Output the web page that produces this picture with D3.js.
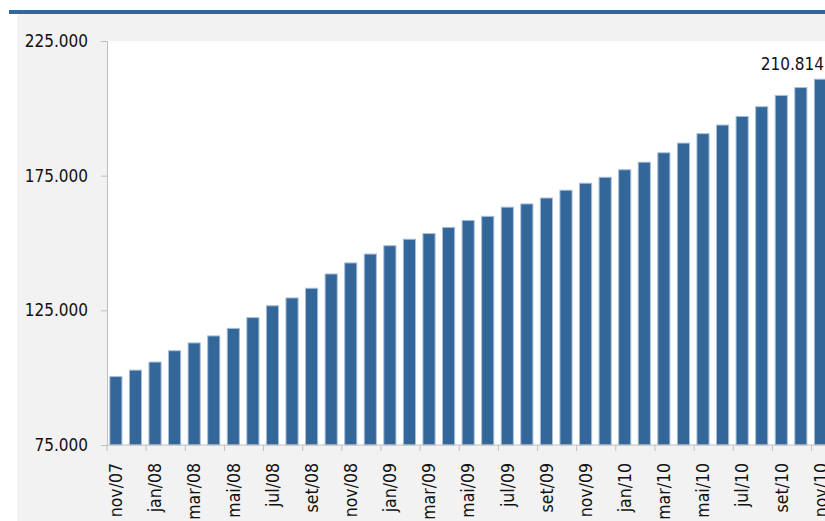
<!DOCTYPE html>
<html>
<head>
<meta charset="utf-8">
<script src="https://cdn.jsdelivr.net/npm/d3@7"></script>
<style>
  html, body { margin: 0; padding: 0; background: #ffffff; }
  svg { display: block; }
  text { font-family: "DejaVu Sans Condensed", "DejaVu Sans", sans-serif; fill: #111; }
</style>
</head>
<body>
<svg id="chart" width="825" height="521"></svg>
<script>
const months = [
  "nov/07","dez/07","jan/08","fev/08","mar/08","abr/08","mai/08","jun/08","jul/08","ago/08","set/08","out/08",
  "nov/08","dez/08","jan/09","fev/09","mar/09","abr/09","mai/09","jun/09","jul/09","ago/09","set/09","out/09",
  "nov/09","dez/09","jan/10","fev/10","mar/10","abr/10","mai/10","jun/10","jul/10","ago/10","set/10","out/10",
  "nov/10"
];
const values = [
  100400, 102800, 105800, 110000, 112900, 115500, 118300, 122300, 126700, 129600, 133200, 138500,
  142600, 145900, 149000, 151400, 153500, 155800, 158400, 159900, 163300, 164500, 166700, 169600,
  172200, 174400, 177200, 180000, 183500, 187100, 190600, 193800, 197000, 200600, 204800, 207700,
  210814
];
const yTicks = [75000, 125000, 175000, 225000];
const labelledMonths = months.filter((m, i) => i % 2 === 0);
const highlightIndex = 36;

const svg = d3.select("#chart");
const W = 825, H = 521;
const plot = { left: 107, top: 41, bottom: 445 };

const fmt = d3.formatLocale({ decimal: ",", thousands: ".", grouping: [3], currency: ["", ""] }).format(",.0f");

// background frame
svg.append("rect").attr("x", 9).attr("y", 10).attr("width", W - 9).attr("height", 4).attr("fill", "#336699");
svg.append("rect").attr("x", 17).attr("y", 14).attr("width", W - 17).attr("height", H - 14).attr("fill", "#f2f2f2");
svg.append("rect").attr("x", plot.left).attr("y", plot.top).attr("width", W - plot.left).attr("height", plot.bottom - plot.top).attr("fill", "#ffffff");

const x = d3.scaleBand()
  .domain(months)
  .range([plot.left, plot.left + 37 * 19.57])
  .paddingInner(0.38)
  .paddingOuter(0.19)
  .align(0.38);

const y = d3.scaleLinear().domain([75000, 225000]).range([plot.bottom, plot.top]);

const axisColor = "#bfbfbf";

// bars
svg.append("g").selectAll("rect")
  .data(values)
  .join("rect")
  .attr("x", (d, i) => x(months[i]))
  .attr("y", d => y(d))
  .attr("width", x.bandwidth())
  .attr("height", d => y(75000) - y(d))
  .attr("fill", "#336699")
  .attr("stroke", "#a9bfd9")
  .attr("stroke-width", 1);

// y axis
const yAxis = d3.axisLeft(y).tickValues(yTicks).tickSize(6).tickPadding(13).tickFormat(fmt);
const gy = svg.append("g").attr("transform", `translate(${plot.left},0)`).call(yAxis);
gy.select(".domain").attr("stroke", axisColor);
gy.selectAll(".tick line").attr("stroke", axisColor);
gy.selectAll(".tick text").style("font-size", "17px").attr("fill", "#111")
  .style("font-family", '"DejaVu Sans Condensed", "DejaVu Sans", sans-serif');

// x axis line and ticks at band boundaries every 2 months
svg.append("line")
  .attr("x1", plot.left).attr("x2", W)
  .attr("y1", plot.bottom).attr("y2", plot.bottom)
  .attr("stroke", axisColor);

const step = x.step();
const boundaries = d3.range(0, months.length + 1, 2).map(i => x.range()[0] + i * step);
svg.append("g").selectAll("line")
  .data(boundaries)
  .join("line")
  .attr("x1", d => d).attr("x2", d => d)
  .attr("y1", plot.bottom).attr("y2", plot.bottom + 6)
  .attr("stroke", axisColor);

// x labels (rotated)
svg.append("g").selectAll("text")
  .data(labelledMonths)
  .join("text")
  .attr("transform", d => `translate(${x(d) + x.bandwidth() / 2},${plot.bottom + 18}) rotate(-90)`)
  .attr("text-anchor", "end")
  .attr("dy", "0.36em")
  .style("font-size", "17.5px")
  .text(d => d);

// value label on last bar
svg.append("text")
  .attr("x", W - 1)
  .attr("y", y(values[highlightIndex]) - 9)
  .attr("text-anchor", "end")
  .style("font-size", "17px")
  .text(fmt(values[highlightIndex]));
</script>
</body>
</html>
